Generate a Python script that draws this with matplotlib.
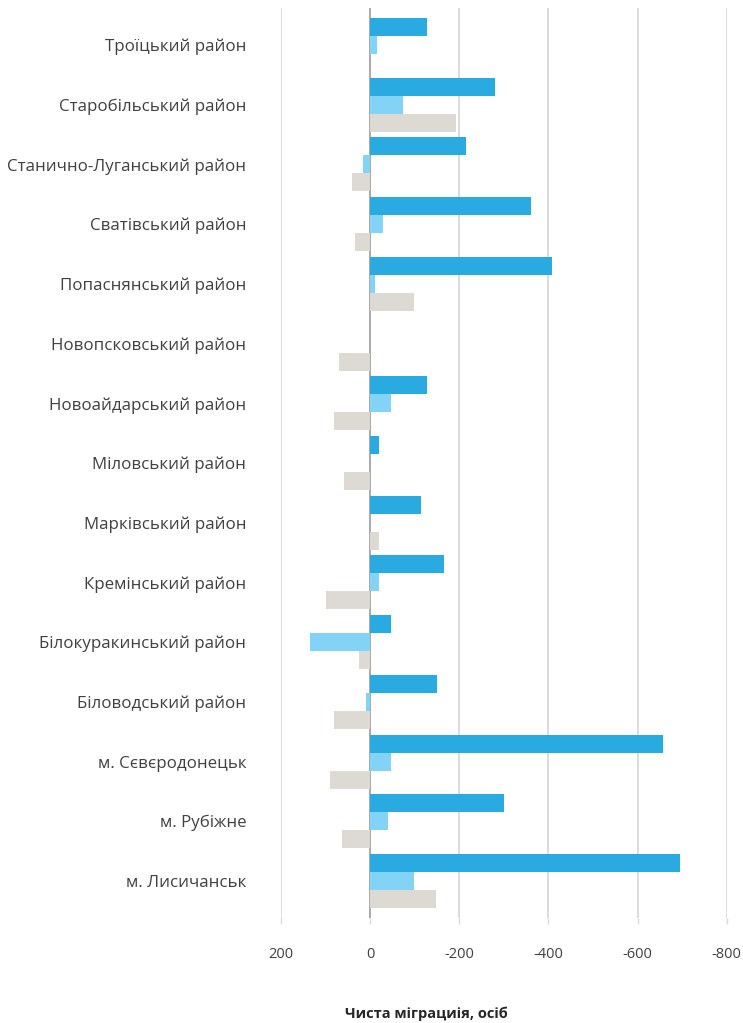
import matplotlib
matplotlib.use("Agg")
import matplotlib.pyplot as plt
import numpy as np

plt.rcParams['font.family'] = ['Open Sans', 'DejaVu Sans']

categories = [
    "Троїцький район",
    "Старобільський район",
    "Станично-Луганський район",
    "Сватівський район",
    "Попаснянський район",
    "Новопсковський район",
    "Новоайдарський район",
    "Міловський район",
    "Марківський район",
    "Кремінський район",
    "Білокуракинський район",
    "Біловодський район",
    "м. Сєвєродонецьк",
    "м. Рубіжне",
    "м. Лисичанськ",
]
series_dark = [-128, -280, -215, -360, -408, 0, -128, -20, -115, -166, -47, -151, -658, -300, -696]
series_light = [-15, -74, 16, -29, -11, 0, -47, 0, 0, -20, 136, 9, -47, -40, -98]
series_gray = [0, -193, 41, 34, -98, 70, 81, 59, -20, 100, 25, 81, 91, 64, -148]
x_ticks = [200, 0, -200, -400, -600, -800]
x_label = "Чиста міграциія, осіб"

colors = ["#29ABE2", "#83D3F6", "#DDDAD4"]

fig = plt.figure(figsize=(7.43, 10.23), dpi=100)
ax = fig.add_axes([281 / 743, 1 - 918 / 1023, (726.7 - 281) / 743, (918 - 8) / 1023])

y = np.arange(len(categories))
h = 0.302
for i, (vals, c) in enumerate(zip([series_dark, series_light, series_gray], colors)):
    ax.barh(y + (i - 1) * h, vals, height=h, color=c, zorder=3, linewidth=0)

ax.set_xlim(200, -800)
ax.set_ylim(len(categories) - 1 + 0.62, -0.62)
ax.set_xticks(x_ticks)
ax.set_xticklabels([str(t) for t in x_ticks])
ax.set_yticks(y)
ax.set_yticklabels(categories)

ax.grid(axis='x', color='#D9D9D9', linewidth=1.3, zorder=0)
ax.axvline(0, color='#A6A6A6', linewidth=1.3, zorder=2)
for s in ax.spines.values():
    s.set_visible(False)

ax.tick_params(axis='y', length=0, pad=25, labelsize=12.2, labelcolor='#404040')
ax.tick_params(axis='x', length=4, width=1, color='#D9D9D9', pad=17, labelsize=10.5, labelcolor='#404040')

fig.text(426 / 743, 1 - 1014 / 1023, x_label, ha='center', va='center',
         fontsize=10.5, fontweight='bold', color='#262626')

fig.savefig("out.png", dpi=100)
